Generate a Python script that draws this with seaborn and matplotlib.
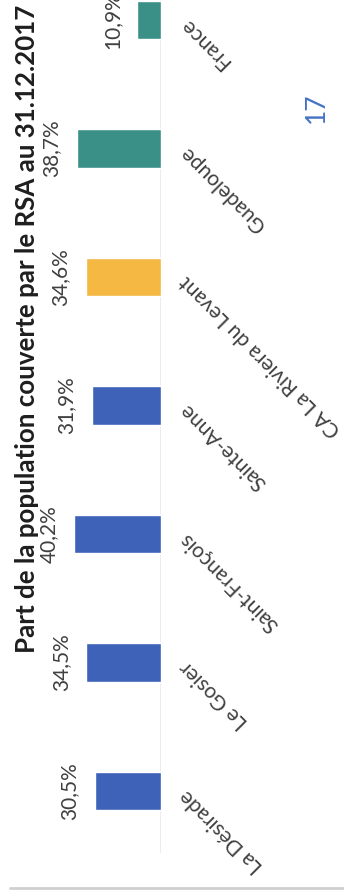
import matplotlib
matplotlib.use("Agg")
import matplotlib.pyplot as plt
from matplotlib.lines import Line2D
import pandas as pd
import seaborn as sns

# Share of the population covered by the RSA on 31.12.2017
categories = ["La Désirade", "Le Gosier", "Saint-François", "Sainte-Anne",
              "CA La Riviera du Levant", "Guadeloupe", "France"]
values = [30.5, 34.5, 40.2, 31.9, 34.6, 38.7, 10.9]
value_labels = ["30,5%", "34,5%", "40,2%", "31,9%", "34,6%", "38,7%", "10,9%"]
bar_colors = ["#3D62B8", "#3D62B8", "#3D62B8", "#3D62B8",
              "#F5B842", "#3A9087", "#3A9087"]
title = "Part de la population couverte par le RSA au 31.12.2017"
page_number = "17"

sns.set_style("white")
plt.rcParams["font.family"] = ["Lato", "DejaVu Sans"]

df = pd.DataFrame({"category": categories, "value": values})

W, H = 344, 890
fig = plt.figure(figsize=(W / 100, H / 100), dpi=100)
fig.patch.set_facecolor("white")

base_px = 161          # baseline position (pixels from left)
px_per_unit = 2.17     # pixels per percentage point
ax = fig.add_axes([0, 0, base_px / W, 1])
ax.set_facecolor("none")

sns.barplot(data=df, x="value", y="category", hue="category",
            palette=dict(zip(categories, bar_colors)), orient="h",
            width=0.30, legend=False, saturation=1, ax=ax)

# category 0 at 99 px from the bottom, 128.5 px between categories
step = 128.5
ax.set_ylim(-99 / step, (H - 99) / step)
ax.set_xlim(base_px / px_per_unit, 0)
ax.set_axis_off()

# faint baseline
ax.axvline(0, ymin=38 / H, ymax=1, color="#ececec", lw=1.5, zorder=0)

text_color = "#404040"
for i, (v, lab) in enumerate(zip(values, value_labels)):
    ax.annotate(lab, (v, i), xytext=(-11, 0), textcoords="offset points",
                rotation=90, ha="right", va="center", fontsize=15,
                color=text_color, annotation_clip=False)
    ax.annotate(categories[i], (0, i), xytext=(16, -1), textcoords="offset points",
                rotation=135, rotation_mode="anchor", ha="right", va="center",
                fontsize=15, color=text_color, annotation_clip=False)

fig.text(27 / W, 1 - 329 / H, title, rotation=90, ha="center", va="center",
         fontsize=18.6, fontweight="bold", color="#1e1e1e")
fig.text(316 / W, 1 - 108 / H, page_number, rotation=90, ha="center", va="center",
         fontsize=19, color="#4472C4")

fig.add_artist(Line2D([10 / W, 1], [2 / H, 2 / H], transform=fig.transFigure,
                      color="#cfcfcf", lw=2))

fig.savefig("out.png", dpi=100)
